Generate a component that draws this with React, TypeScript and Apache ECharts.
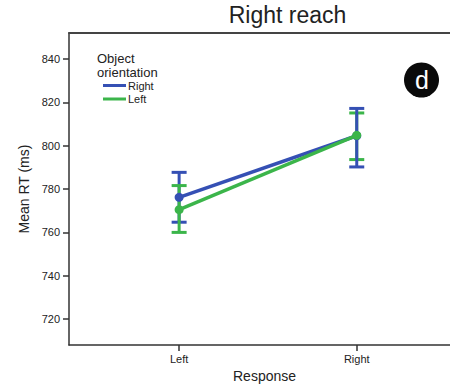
import React, { useEffect, useRef } from "react";
import * as echarts from "echarts";

const categories = ["Left", "Right"];
const seriesNames = ["Right", "Left"];
const rightOrientMean = [776.2, 804.6];
const rightOrientLow = [764.7, 790.2];
const rightOrientHigh = [787.7, 817.2];
const leftOrientMean = [770.5, 804.8];
const leftOrientLow = [760.0, 793.6];
const leftOrientHigh = [781.6, 815.1];
const yTicks = [720, 740, 760, 780, 800, 820, 840];

const BLUE = "#3550B4";
const GREEN = "#3BB54A";
const FONT = "Liberation Sans, Arial, sans-serif";

export default function App() {
  const ref = useRef<HTMLDivElement>(null);
  useEffect(() => {
    if (!ref.current) return;
    const chart = echarts.init(ref.current, null, { renderer: "svg" });
    const toPts = (arr: number[]) => arr.map((v, i) => [i, v]);
    // error bars: ordered so that green is on top at Left and blue on top at Right
    const errData: any[] = [
      [0, rightOrientLow[0], rightOrientHigh[0], 0],
      [0, leftOrientLow[0], leftOrientHigh[0], 1],
      [1, leftOrientLow[1], leftOrientHigh[1], 1],
      [1, rightOrientLow[1], rightOrientHigh[1], 0],
    ];
    const colors = [BLUE, GREEN];
    const option: any = {
      animation: false,
      textStyle: { fontFamily: FONT },
      grid: { left: 69, right: 0, top: 33, bottom: 42 },
      legend: {
        orient: "vertical",
        left: 103,
        top: 80,
        padding: 0,
        itemWidth: 23,
        itemHeight: 3,
        itemGap: 2.5,
        icon: "rect",
        data: seriesNames,
        textStyle: { fontSize: 11, lineHeight: 11, color: "#222", fontFamily: FONT, padding: [0, 0, 0, -3] },
      },
      xAxis: [
        {
          type: "value",
          min: -0.62,
          max: 1.525,
          splitLine: { show: false },
          axisLine: { show: true, onZero: false, lineStyle: { color: "#333", width: 1.5 } },
          axisTick: { show: true, customValues: [0, 1], length: 6, lineStyle: { color: "#333", width: 1.5 } },
          axisLabel: {
            customValues: [0, 1],
            formatter: (v: number) => categories[Math.round(v)],
            fontSize: 11,
            color: "#222",
            margin: 8,
          },
          name: "Response",
          nameLocation: "middle",
          nameGap: 23,
          nameTextStyle: { fontSize: 14, color: "#222", padding: [0, 0, 0, 10] },
        },
        {
          type: "value",
          position: "top",
          min: -0.62,
          max: 1.525,
          splitLine: { show: false },
          axisLine: { show: true, onZero: false, lineStyle: { color: "#444", width: 2 } },
          axisTick: { show: false },
          axisLabel: { show: false },
        },
      ],
      yAxis: {
        type: "value",
        min: 708,
        max: 852,
        splitLine: { show: false },
        axisLine: { show: true, onZero: false, lineStyle: { color: "#333", width: 1.5 } },
        axisTick: { show: true, customValues: yTicks, length: 6, lineStyle: { color: "#333", width: 1.5 } },
        axisLabel: { customValues: yTicks, fontSize: 11, color: "#222", margin: 9 },
        name: "Mean RT (ms)",
        nameLocation: "middle",
        nameGap: 37,
        nameTextStyle: { fontSize: 14, color: "#222" },
      },
      series: [
        {
          type: "custom",
          name: "err",
          z: 2,
          renderItem: (params: any, api: any) => {
            const x = api.value(0);
            const lo = api.coord([x, api.value(1)]);
            const hi = api.coord([x, api.value(2)]);
            const c = colors[api.value(3)];
            const hw = 7.5;
            const style = { stroke: c, lineWidth: 3, fill: "none" };
            return {
              type: "group",
              children: [
                { type: "line", shape: { x1: lo[0], y1: lo[1], x2: hi[0], y2: hi[1] }, style },
                { type: "line", shape: { x1: lo[0] - hw, y1: lo[1], x2: lo[0] + hw, y2: lo[1] }, style },
                { type: "line", shape: { x1: hi[0] - hw, y1: hi[1], x2: hi[0] + hw, y2: hi[1] }, style },
              ],
            };
          },
          data: errData,
        },
        {
          type: "line",
          name: seriesNames[0],
          z: 3,
          data: toPts(rightOrientMean),
          color: BLUE,
          symbol: "circle",
          symbolSize: 9,
          lineStyle: { width: 3.5, color: BLUE },
          itemStyle: { color: BLUE },
        },
        {
          type: "line",
          name: seriesNames[1],
          z: 4,
          data: toPts(leftOrientMean),
          color: GREEN,
          symbol: "circle",
          symbolSize: 9,
          lineStyle: { width: 3.5, color: GREEN },
          itemStyle: { color: GREEN },
        },
      ],
      graphic: [
        {
          type: "text",
          x: 287.5,
          y: 3,
          style: { text: "Right reach", fontSize: 23, fill: "#222", align: "center", verticalAlign: "top", fontFamily: FONT },
        },
        {
          type: "text",
          x: 97,
          y: 51,
          style: { text: "Object\norientation", fontSize: 13, lineHeight: 14, fill: "#222", align: "left", verticalAlign: "top", fontFamily: FONT },
        },
        {
          type: "circle",
          shape: { cx: 421.5, cy: 80, r: 17.5 },
          style: { fill: "#0a0a0a" },
        },
        {
          type: "text",
          x: 422,
          y: 80,
          style: { text: "d", fontSize: 25, fill: "#fff", align: "center", verticalAlign: "middle", fontFamily: FONT },
        },
      ],
    };
    chart.setOption(option);
    return () => chart.dispose();
  }, []);
  return <div ref={ref} style={{ position: "absolute", left: 0, top: 0, width: 450, height: 388 }} />;
}
